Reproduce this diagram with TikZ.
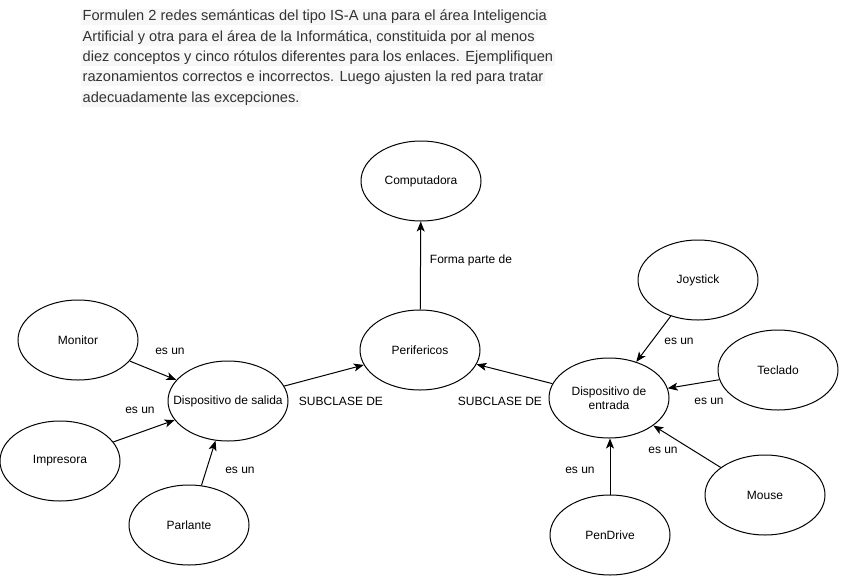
\documentclass[tikz,border=0pt]{standalone}
\usepackage{fontspec}
\setmainfont{Liberation Sans}
\usetikzlibrary{shapes.geometric,arrows.meta}
\begin{document}
\begin{tikzpicture}[x=1pt,y=-1pt,
  concept/.style={draw,ellipse,line width=1pt,minimum width=120pt,minimum height=80pt,inner sep=0pt,
    label={[font=\fontsize{12}{14}\selectfont,align=center,inner sep=0pt]center:#1}},
  rel/.style={line width=1pt,-{Stealth[length=10pt,width=8pt,inset=2.5pt]}},
  lbl/.style={font=\fontsize{12}{14}\selectfont,inner sep=0pt},
  qline/.style={font=\fontsize{14.6}{18}\selectfont,text=black!80,fill=black!3,inner sep=1.5pt,anchor=west}]
\useasboundingbox (0,0) rectangle (841,576);
% statement
\node[qline] (q1) at (81,17) {Formulen 2 redes semánticas del tipo IS-A una para el área Inteligencia};
\node[qline] (q2) at (81,38) {Artificial y otra para el área de la Informática, constituida por al menos};
\node[qline] (q3) at (81,58) {diez conceptos y cinco rótulos diferentes para los enlaces. Ejemplifiquen};
\node[qline] (q4) at (81,78) {razonamientos correctos e incorrectos. Luego ajusten la red para tratar};
\node[qline] (q5) at (81,99) {adecuadamente las excepciones.};
% concepts
\node[concept={Computadora}] (comp) at (421,181) {};
\node[concept={Perifericos}] (peri) at (420,350) {};
\node[concept={Dispositivo de salida}] (sal) at (228,401) {};
\node[concept={Dispositivo de\\entrada}] (ent) at (609,398) {};
\node[concept={Monitor}] (mon) at (78,340) {};
\node[concept={Impresora}] (imp) at (60,461) {};
\node[concept={Parlante}] (par) at (189,525) {};
\node[concept={Joystick}] (joy) at (698,280) {};
\node[concept={Teclado}] (tec) at (778,370) {};
\node[concept={Mouse}] (mou) at (765,495) {};
\node[concept={PenDrive}] (pen) at (610,535) {};
% relations
\draw[rel] (peri) -- (comp);
\draw[rel] (sal) -- (peri);
\draw[rel] (ent) -- (peri);
\draw[rel] (mon) -- (sal);
\draw[rel] (imp) -- (sal);
\draw[rel] (par) -- (sal);
\draw[rel] (joy) -- (ent);
\draw[rel] (tec) -- (ent);
\draw[rel] (mou) -- (ent);
\draw[rel] (pen.north) -- (pen.north |- ent.south);
% labels
\node[lbl] (l1) at (471,260) {Forma parte de};
\node[lbl] (l2) at (341,401) {SUBCLASE DE};
\node[lbl] (l3) at (500,401) {SUBCLASE DE};
\node[lbl] (l4) at (170,351) {es un};
\node[lbl] (l5) at (140,410) {es un};
\node[lbl] (l6) at (240,470) {es un};
\node[lbl] (l7) at (679,341) {es un};
\node[lbl] (l8) at (709,401) {es un};
\node[lbl] (l9) at (663,450) {es un};
\node[lbl] (l10) at (580,470) {es un};
\end{tikzpicture}
\end{document}
